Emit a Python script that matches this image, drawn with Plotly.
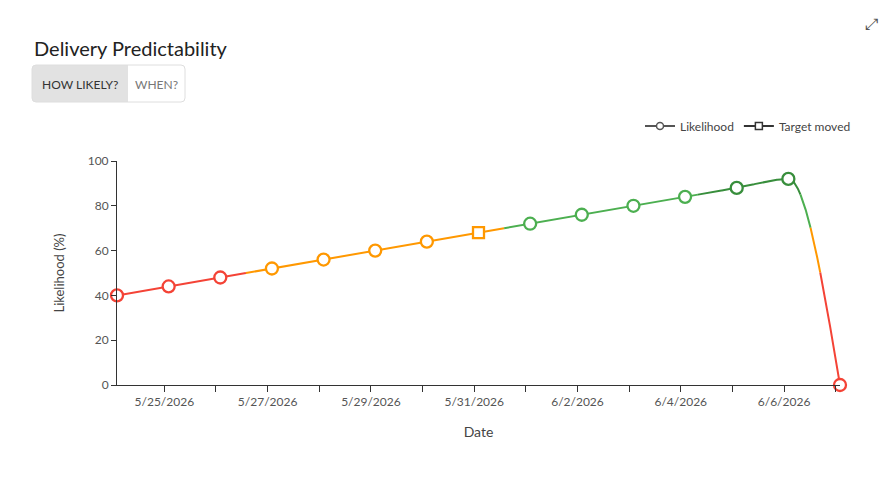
import numpy as np
import pandas as pd
import plotly.graph_objects as go

# ---------------- data ----------------
dates = ["2026-05-24", "2026-05-25", "2026-05-26", "2026-05-27", "2026-05-28",
         "2026-05-29", "2026-05-30", "2026-05-31", "2026-06-01", "2026-06-02",
         "2026-06-03", "2026-06-04", "2026-06-05", "2026-06-06", "2026-06-07"]
likelihood = [40, 44, 48, 52, 56, 60, 64, 68, 72, 76, 80, 84, 88, 92, 0]
target_moved = [False, False, False, False, False, False, False, True,
                False, False, False, False, False, False, False]
tick_dates = ["2026-05-25", "2026-05-26", "2026-05-27", "2026-05-28", "2026-05-29",
              "2026-05-30", "2026-05-31", "2026-06-01", "2026-06-02", "2026-06-03",
              "2026-06-04", "2026-06-05", "2026-06-06", "2026-06-07"]
tick_labels = ["5/25/2026", "", "5/27/2026", "", "5/29/2026", "", "5/31/2026", "",
               "6/2/2026", "", "6/4/2026", "", "6/6/2026", ""]
y_ticks = [0, 20, 40, 60, 80, 100]
band_edges = [50, 70, 85]
band_colors = ["#f44336", "#ff9800", "#4caf50", "#388e3c"]

FONT = "Lato"
W, H = 892, 501
ML, MR, MT, MB = 117, 52, 161, 116
PW, PH = W - ML - MR, H - MT - MB


def px(x):
    return (x - ML) / PW


def py(y):
    return (H - MB - y) / PH


def band_color(v):
    i = 0
    for e in band_edges:
        if v >= e:
            i += 1
    return band_colors[i]


t = pd.to_datetime(dates) + pd.Timedelta(hours=2)
xd = np.array([(ti - t[0]) / pd.Timedelta(days=1) for ti in t])
yv = np.array(likelihood, dtype=float)

# monotone-X cubic (d3 style) tangents
n = len(xd)
h = np.diff(xd)
s = np.diff(yv) / h
tan = np.zeros(n)
for i in range(1, n - 1):
    h0, h1, s0, s1 = h[i - 1], h[i], s[i - 1], s[i]
    p = (s0 * h1 + s1 * h0) / (h0 + h1)
    v = (np.sign(s0) + np.sign(s1)) * min(abs(s0), abs(s1), 0.5 * abs(p))
    tan[i] = 0.0 if np.isnan(v) else v
tan[0] = (3 * s[0] - tan[1]) / 2
tan[-1] = (3 * s[-1] - tan[-2]) / 2

dx_all, dy_all = [], []
for i in range(n - 1):
    x0, x1, y0, y1 = xd[i], xd[i + 1], yv[i], yv[i + 1]
    d = (x1 - x0) / 3
    P = [(x0, y0), (x0 + d, y0 + d * tan[i]), (x1 - d, y1 - d * tan[i + 1]), (x1, y1)]
    u = np.linspace(0, 1, 150)[:-1] if i < n - 2 else np.linspace(0, 1, 150)
    bx = ((1 - u) ** 3) * P[0][0] + 3 * ((1 - u) ** 2) * u * P[1][0] + 3 * (1 - u) * u ** 2 * P[2][0] + u ** 3 * P[3][0]
    by = ((1 - u) ** 3) * P[0][1] + 3 * ((1 - u) ** 2) * u * P[1][1] + 3 * (1 - u) * u ** 2 * P[2][1] + u ** 3 * P[3][1]
    dx_all.extend(bx)
    dy_all.extend(by)
dx_all = np.array(dx_all)
dy_all = np.array(dy_all)

# split into colour runs
runs = []
cur_c, cur_x, cur_y = None, [], []
for k in range(len(dx_all) - 1):
    c = band_color((dy_all[k] + dy_all[k + 1]) / 2)
    if c != cur_c:
        if cur_c is not None:
            runs.append((cur_c, cur_x, cur_y))
        cur_c, cur_x, cur_y = c, [dx_all[k]], [dy_all[k]]
    cur_x.append(dx_all[k + 1])
    cur_y.append(dy_all[k + 1])
runs.append((cur_c, cur_x, cur_y))

fig = go.Figure()
for c, rx, ry in runs:
    rt = t[0] + pd.to_timedelta(np.array(rx), unit="D")
    fig.add_trace(go.Scatter(x=list(rt), y=ry, mode="lines",
                             line=dict(color=c, width=2), cliponaxis=False,
                             showlegend=False, hoverinfo="skip"))

fig.add_trace(go.Scatter(
    x=list(t), y=likelihood, mode="markers", showlegend=False, cliponaxis=False,
    marker=dict(symbol=["square" if m else "circle" for m in target_moved],
                size=[11 if m else 12 for m in target_moved],
                color="white", opacity=1,
                line=dict(width=2.3, color=[band_color(v) for v in likelihood]))))

fig.add_trace(go.Scatter(x=[None], y=[None], mode="lines+markers", name="Likelihood",
                         line=dict(color="#555", width=2),
                         marker=dict(symbol="circle", size=7, color="white",
                                     line=dict(color="#555", width=1.5))))
fig.add_trace(go.Scatter(x=[None], y=[None], mode="lines+markers", name="Target moved",
                         line=dict(color="#333", width=2),
                         marker=dict(symbol="square", size=7, color="white",
                                     line=dict(color="#333", width=1.5))))


def rrect(x0, y0, x1, y1, r, corners):
    # pixel coords -> paper path with rounded corners (tl, tr, br, bl)
    rx, ry = r / PW, r / PH
    X0, X1, Y0, Y1 = px(x0), px(x1), py(y0), py(y1)  # Y0 top, Y1 bottom
    tl, tr, br, bl = corners
    path = f"M {X0 + (rx if tl else 0)},{Y0} "
    path += f"L {X1 - (rx if tr else 0)},{Y0} "
    if tr:
        path += f"Q {X1},{Y0} {X1},{Y0 - ry} "
    path += f"L {X1},{Y1 + (ry if br else 0)} "
    if br:
        path += f"Q {X1},{Y1} {X1 - rx},{Y1} "
    path += f"L {X0 + (rx if bl else 0)},{Y1} "
    if bl:
        path += f"Q {X0},{Y1} {X0},{Y1 + ry} "
    path += f"L {X0},{Y0 - (ry if tl else 0)} "
    if tl:
        path += f"Q {X0},{Y0} {X0 + rx},{Y0} "
    return path + "Z"


shapes = [
    dict(type="path", xref="paper", yref="paper",
         path=rrect(32, 65, 128, 102, 4, (True, False, False, True)),
         fillcolor="#e2e2e2", line=dict(width=0)),
    dict(type="path", xref="paper", yref="paper",
         path=rrect(32, 65, 185, 102, 4, (True, True, True, True)),
         fillcolor="rgba(0,0,0,0)", line=dict(color="#dedede", width=1)),
]

annotations = [
    dict(text="Delivery Predictability", x=px(32), y=py(48), xref="paper", yref="paper",
         xanchor="left", yanchor="middle", showarrow=False,
         font=dict(family=FONT, size=20, color="#222")),
    dict(text="HOW LIKELY?", x=px(80), y=py(84), xref="paper", yref="paper",
         xanchor="center", yanchor="middle", showarrow=False,
         font=dict(family=FONT, size=12, color="#333")),
    dict(text="WHEN?", x=px(156.5), y=py(84), xref="paper", yref="paper",
         xanchor="center", yanchor="middle", showarrow=False,
         font=dict(family=FONT, size=12, color="#777")),
    dict(text="⤢", x=px(871), y=py(24), xref="paper", yref="paper",
         xanchor="center", yanchor="middle", showarrow=False,
         font=dict(family="DejaVu Sans", size=16, color="#555")),
]

fig.update_layout(
    width=W, height=H,
    margin=dict(l=ML, r=MR, t=MT, b=MB),
    paper_bgcolor="white", plot_bgcolor="white",
    font=dict(family=FONT, size=12, color="#555"),
    shapes=shapes, annotations=annotations,
    legend=dict(orientation="h", x=px(856), xanchor="right", y=py(126), yanchor="middle",
                font=dict(family=FONT, size=12, color="#444"), itemwidth=30,
                bgcolor="rgba(0,0,0,0)"),
    xaxis=dict(type="date", range=[t[0], t[-1]], tickvals=tick_dates, ticktext=tick_labels,
               ticks="outside", ticklen=6, tickcolor="#333", showline=True,
               linecolor="#333", linewidth=1, showgrid=False, zeroline=False,
               tickfont=dict(family=FONT, size=12, color="#555"),
               title=dict(text="Date", font=dict(family=FONT, size=14, color="#444"), standoff=18)),
    yaxis=dict(range=[0, 100], tickvals=y_ticks, ticks="outside", ticklen=5,
               tickcolor="#333", showline=True, linecolor="#333", linewidth=1,
               showgrid=False, zeroline=False,
               tickfont=dict(family=FONT, size=12, color="#555"),
               title=dict(text="Likelihood (%)", font=dict(family=FONT, size=13, color="#444"), standoff=20)),
)

fig.write_html("out.html")
